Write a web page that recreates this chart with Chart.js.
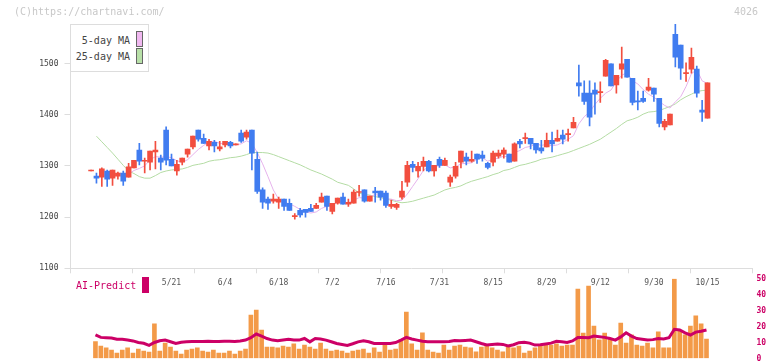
<!DOCTYPE html>
<html>
<head>
<meta charset="utf-8">
<script src="https://cdn.jsdelivr.net/npm/chart.js@4.4.1/dist/chart.umd.min.js"></script>
<style>
body { margin: 0; width: 772px; height: 361px; overflow: hidden; background: #fff; position: relative; font-family: "DejaVu Sans Mono", monospace; }
canvas { position: absolute; left: 0; }
#main { top: 0; }
#sub { top: 268px; }
.t { position: absolute; font-size: 10px; line-height: 12px; white-space: nowrap; }
.sw { position: absolute; width: 5px; height: 14px; border: 1px solid #666; }
</style>
</head>
<body>

<canvas id="main" width="772" height="300"></canvas>
<canvas id="sub" width="772" height="100"></canvas>

<div class="t" style="left:14px;top:6px;color:#c8c8c8">(C)https://chartnavi.com/</div>
<div class="t" style="left:734px;top:6px;color:#c8c8c8">4026</div>

<div style="position:absolute;left:70px;top:24px;width:77px;height:46px;border:1px solid #ddd;background:#fff"></div>
<div class="t" style="right:642px;top:35px;color:#444">5-day MA</div>
<div class="sw" style="left:136px;top:31px;background:#f0b8f0"></div>
<div class="t" style="right:642px;top:51px;color:#444">25-day MA</div>
<div class="sw" style="left:136px;top:48px;background:#b8e0a8"></div>

<div class="t" style="left:76px;top:280px;color:#cc0066">AI-Predict</div>
<div style="position:absolute;left:142px;top:277px;width:7px;height:16px;background:#cc0066"></div>

<script>
/* DATA */

const dateLabels = ["5/21", "6/4", "6/18", "7/2", "7/16", "7/31", "8/15", "8/29", "9/12", "9/30", "10/15"]
const datePos = [0, 10, 20, 30, 40, 50, 60, 70, 80, 90, 100]
const yTicks = [1100, 1200, 1300, 1400, 1500]

const open = [
    1290, 1280, 1278, 1290, 1276, 1280, 1286, 1278, 1296, 1331,
    1309, 1307, 1327, 1315, 1370, 1313, 1290, 1307, 1323, 1337,
    1370, 1354, 1339, 1346, 1333, 1341, 1346, 1341, 1364, 1356,
    1370, 1313, 1253, 1235, 1231, 1229, 1235, 1227, 1201, 1213,
    1215, 1217, 1217, 1229, 1241, 1211, 1227, 1239, 1225, 1227,
    1248, 1253, 1231, 1251, 1251, 1247, 1221, 1219, 1239, 1268,
    1303, 1290, 1299, 1309, 1290, 1313, 1301, 1268, 1280, 1307,
    1317, 1309, 1323, 1321, 1305, 1307, 1319, 1323, 1323, 1309,
    1348, 1353, 1354, 1344, 1335, 1337, 1350, 1348, 1360, 1361,
    1374, 1462, 1442, 1442, 1448, 1443, 1475, 1499, 1458, 1489,
    1508, 1471, 1427, 1432, 1448, 1452, 1432, 1376, 1380, 1557,
    1536, 1480, 1489, 1489, 1409, 1393
]
const high = [
    1292, 1286, 1296, 1292, 1292, 1288, 1290, 1305, 1311, 1344,
    1315, 1329, 1348, 1321, 1376, 1323, 1311, 1315, 1333, 1358,
    1370, 1362, 1352, 1350, 1348, 1348, 1348, 1343, 1370, 1370,
    1370, 1327, 1257, 1239, 1245, 1239, 1235, 1235, 1207, 1217,
    1215, 1225, 1227, 1247, 1241, 1227, 1237, 1247, 1235, 1253,
    1262, 1253, 1241, 1258, 1251, 1251, 1233, 1227, 1270, 1309,
    1309, 1307, 1317, 1311, 1301, 1317, 1315, 1282, 1307, 1329,
    1325, 1329, 1323, 1329, 1307, 1329, 1331, 1335, 1323, 1345,
    1352, 1364, 1354, 1344, 1350, 1364, 1366, 1370, 1370, 1372,
    1395, 1497, 1466, 1466, 1462, 1464, 1508, 1499, 1477, 1532,
    1508, 1471, 1446, 1446, 1471, 1452, 1432, 1391, 1401, 1577,
    1536, 1501, 1530, 1495, 1428, 1462
]
const low = [
    1290, 1266, 1260, 1260, 1262, 1274, 1262, 1278, 1296, 1302,
    1286, 1292, 1294, 1292, 1302, 1300, 1282, 1302, 1317, 1333,
    1348, 1344, 1331, 1327, 1329, 1337, 1335, 1341, 1346, 1352,
    1292, 1246, 1217, 1215, 1227, 1217, 1213, 1213, 1196, 1200,
    1200, 1211, 1217, 1229, 1213, 1206, 1225, 1225, 1221, 1227,
    1241, 1229, 1231, 1229, 1233, 1219, 1217, 1215, 1235, 1260,
    1288, 1278, 1290, 1288, 1280, 1297, 1301, 1260, 1276, 1296,
    1302, 1307, 1305, 1309, 1294, 1300, 1315, 1315, 1307, 1309,
    1335, 1344, 1333, 1325, 1325, 1337, 1327, 1348, 1343, 1348,
    1374, 1436, 1420, 1378, 1401, 1424, 1475, 1456, 1442, 1471,
    1473, 1419, 1409, 1424, 1446, 1426, 1376, 1370, 1380, 1493,
    1469, 1465, 1481, 1434, 1387, 1393
]
const close = [
    1292, 1276, 1294, 1274, 1292, 1286, 1270, 1298, 1311, 1309,
    1311, 1329, 1331, 1307, 1311, 1300, 1303, 1315, 1333, 1358,
    1352, 1344, 1348, 1339, 1337, 1348, 1339, 1343, 1348, 1366,
    1325, 1250, 1229, 1227, 1235, 1235, 1221, 1213, 1203, 1204,
    1209, 1211, 1223, 1239, 1221, 1227, 1237, 1225, 1229, 1249,
    1250, 1231, 1241, 1247, 1239, 1223, 1225, 1225, 1251, 1301,
    1297, 1299, 1309, 1290, 1301, 1301, 1311, 1278, 1299, 1329,
    1309, 1313, 1313, 1315, 1297, 1325, 1325, 1331, 1307, 1343,
    1343, 1355, 1343, 1331, 1329, 1350, 1343, 1354, 1352, 1363,
    1385, 1456, 1426, 1395, 1440, 1445, 1506, 1456, 1477, 1499,
    1473, 1424, 1425, 1426, 1454, 1440, 1383, 1387, 1401, 1512,
    1491, 1482, 1512, 1442, 1405, 1462
]
const ma5 = [
    null, null, null, null, null, null, null, 1284, 1291, 1295,
    1300, 1312, 1318, 1317, 1318, 1316, 1310, 1307, 1312, 1322,
    1332, 1340, 1347, 1348, 1344, 1343, 1342, 1341, 1343, 1349,
    1344, 1326, 1304, 1279, 1253, 1235, 1229, 1226, 1221, 1215,
    1210, 1208, 1210, 1217, 1221, 1224, 1229, 1230, 1228, 1233,
    1238, 1237, 1240, 1244, 1242, 1236, 1235, 1232, 1233, 1245,
    1260, 1275, 1291, 1299, 1299, 1300, 1302, 1296, 1298, 1304,
    1305, 1306, 1313, 1316, 1309, 1313, 1315, 1319, 1317, 1326,
    1330, 1336, 1338, 1343, 1340, 1342, 1339, 1341, 1346, 1352,
    1359, 1382, 1396, 1405, 1420, 1432, 1442, 1448, 1465, 1477,
    1482, 1466, 1460, 1449, 1440, 1434, 1426, 1418, 1413, 1425,
    1435, 1455, 1480, 1488, 1466, 1461
]
const ma25 = [
    null, 1358, 1347, 1336, 1325, 1313, 1301, 1290, 1285, 1279,
    1276, 1276, 1281, 1287, 1290, 1292, 1293, 1294, 1297, 1301,
    1303, 1305, 1309, 1311, 1312, 1314, 1316, 1317, 1319, 1322,
    1326, 1326, 1326, 1325, 1322, 1318, 1314, 1310, 1306, 1302,
    1297, 1292, 1288, 1284, 1279, 1274, 1268, 1265, 1262, 1255,
    1247, 1244, 1243, 1240, 1238, 1235, 1233, 1230, 1228, 1229,
    1231, 1234, 1237, 1240, 1243, 1248, 1253, 1256, 1258, 1261,
    1266, 1270, 1273, 1276, 1279, 1283, 1286, 1291, 1293, 1297,
    1301, 1303, 1306, 1309, 1313, 1315, 1317, 1320, 1323, 1326,
    1330, 1334, 1338, 1342, 1347, 1352, 1359, 1366, 1373, 1381,
    1388, 1391, 1395, 1401, 1405, 1406, 1408, 1412, 1416, 1421,
    1429, 1435, 1440, 1445, 1447, 1448
]
const volume = [
    null, 10.5, 7.8, 6.6, 5.3, 3.4, 5.3, 6.6, 3.4, 5.9,
    4.7, 4.0, 21.6, 4.7, 9.7, 7.2, 4.7, 2.8, 5.3, 5.9,
    6.6, 4.7, 4.0, 5.3, 3.4, 3.4, 4.7, 2.8, 4.7, 5.9,
    27.2, 30.3, 17.8, 7.2, 7.2, 6.6, 7.8, 7.2, 9.1, 5.9,
    8.4, 7.2, 5.9, 9.7, 5.9, 4.7, 5.3, 4.7, 3.4, 4.7,
    5.3, 5.9, 3.4, 6.6, 4.0, 8.4, 5.3, 5.9, 11.6, 29.0,
    9.1, 5.3, 16.0, 5.3, 4.0, 3.4, 8.4, 5.3, 7.8, 8.4,
    7.2, 6.6, 4.1, 7.2, 7.8, 6.6, 5.3, 4.1, 7.8, 6.6,
    7.8, 3.4, 4.7, 6.6, 8.4, 8.4, 8.4, 9.1, 7.8, 8.4,
    8.4, 43.4, 15.9, 45.3, 20.3, 11.6, 15.9, 12.2, 8.4, 22.2,
    9.7, 14.8, 8.4, 7.8, 9.7, 6.6, 16.6, 6.6, 6.6, 49.7,
    17.2, 14.8, 20.3, 26.6, 21.6, 12.2
]
const predict = [
    null, 14.7, 13.2, 13.0, 12.8, 12.0, 12.0, 11.5, 11.0, 10.0,
    9.5, 8.2, 10.0, 11.1, 11.5, 10.5, 9.4, 10.2, 10.4, 10.6,
    10.6, 10.6, 10.8, 10.6, 10.6, 10.8, 10.8, 10.6, 11.0, 11.5,
    13.0, 15.3, 14.0, 12.5, 11.5, 11.1, 11.6, 12.0, 11.5, 11.5,
    12.5, 10.4, 12.5, 12.2, 11.5, 10.5, 9.4, 8.8, 8.2, 9.2,
    10.4, 11.1, 10.5, 9.4, 9.4, 9.4, 9.4, 10.0, 11.5, 13.2,
    12.2, 11.5, 10.8, 10.4, 10.4, 10.4, 10.4, 10.6, 11.3, 11.1,
    11.3, 11.5, 10.5, 9.4, 8.4, 8.8, 9.1, 8.8, 7.8, 8.6,
    9.9, 10.2, 9.6, 8.4, 8.6, 9.1, 9.6, 10.8, 10.4, 10.0,
    11.0, 13.2, 13.2, 13.0, 14.0, 13.6, 13.2, 12.5, 11.5, 13.5,
    16.1, 14.0, 12.5, 12.0, 11.5, 11.8, 12.5, 12.2, 13.0, 18.2,
    17.8, 16.0, 14.7, 16.5, 17.0, 17.8
]


/* HELPERS */

const XMIN = -18.843
const XMAX = 108.396
const FONT = "'DejaVu Sans Mono', monospace"

const pos = open.map((_, i) => i - 15)
const candleColor = open.map((o, i) => close[i] >= o ? "#f24e3f" : "#407cf0")
const markTicks = []
for (let k = 0; k <= 11; k++) markTicks.push(XMIN + k * (XMAX - XMIN) / 11)

const pts = arr => pos.map((x, i) => ({ x: x, y: arr[i] }))


/* PRICE CHART */

new Chart(document.getElementById("main"), {
    type: "bar",
    data: {
        datasets: [
            {
                type: "line", data: pts(ma25), borderColor: "#b4dca4",
                borderWidth: 1, pointRadius: 0, order: 4
            },
            {
                type: "line", data: pts(ma5), borderColor: "#e6b2ec",
                borderWidth: 1, pointRadius: 0, order: 3
            },
            {
                data: pos.map((x, i) => ({ x: x, y: [low[i], high[i]] })),
                backgroundColor: candleColor, barThickness: 1, grouped: false, order: 2
            },
            {
                data: pos.map((x, i) => ({ x: x, y: [Math.min(open[i], close[i]), Math.max(open[i], close[i])] })),
                backgroundColor: candleColor, barThickness: 5, minBarLength: 1, grouped: false, order: 1
            }
        ]
    },
    options: {
        responsive: false,
        animation: false,
        layout: { padding: { left: 0, right: 19.5, top: 24, bottom: 0 } },
        plugins: { legend: { display: false }, tooltip: { enabled: false } },
        scales: {
            x: {
                type: "linear", min: XMIN, max: XMAX, offset: false,
                afterBuildTicks: s => {
                    s.ticks = markTicks.map(v => ({ value: v }))
                        .concat(datePos.map(v => ({ value: v })))
                        .sort((a, b) => a.value - b.value)
                },
                afterFit: s => { s.height = 31.7 },
                ticks: {
                    autoSkip: false, maxRotation: 0, padding: 5, color: "#555",
                    font: { family: FONT, size: 8 },
                    callback: v => {
                        const j = datePos.indexOf(v)
                        return j >= 0 ? dateLabels[j] : ""
                    }
                },
                grid: {
                    drawOnChartArea: false, offset: false, tickLength: 5,
                    color: ctx => datePos.indexOf(ctx.tick.value) >= 0 ? "rgba(0,0,0,0)" : "#ddd"
                },
                border: { color: "#ddd" }
            },
            y: {
                min: 1100, max: 1577,
                afterBuildTicks: s => { s.ticks = yTicks.map(v => ({ value: v })) },
                afterFit: s => { s.width = 70.5 },
                ticks: {
                    padding: 6, color: "#444", font: { family: FONT, size: 8 },
                    callback: v => String(v)
                },
                grid: { drawOnChartArea: false, tickLength: 6, color: "#ddd" },
                border: { color: "#ddd" }
            }
        }
    }
})


/* AI-PREDICT PANEL */

new Chart(document.getElementById("sub"), {
    type: "bar",
    data: {
        datasets: [
            {
                type: "line", data: pts(predict), borderColor: "#cc0066",
                borderWidth: 3, pointRadius: 0, order: 1
            },
            {
                data: pts(volume), backgroundColor: "#f39a48",
                barThickness: 4, grouped: false, order: 2
            }
        ]
    },
    options: {
        responsive: false,
        animation: false,
        layout: { padding: { left: 70.5, right: 0, top: 10.5, bottom: 9.5 } },
        plugins: { legend: { display: false }, tooltip: { enabled: false } },
        scales: {
            x: { type: "linear", min: XMIN + 0.187, max: XMAX + 0.187, offset: false, display: false },
            y: {
                position: "right", min: 0, max: 50,
                afterFit: s => { s.width = 19.5 },
                ticks: { stepSize: 10, padding: 4, color: "#cc0066", font: { family: FONT, size: 8, weight: "bold" } },
                grid: { drawOnChartArea: false, drawTicks: false },
                border: { display: false }
            }
        }
    }
})
</script>
</body>
</html>
